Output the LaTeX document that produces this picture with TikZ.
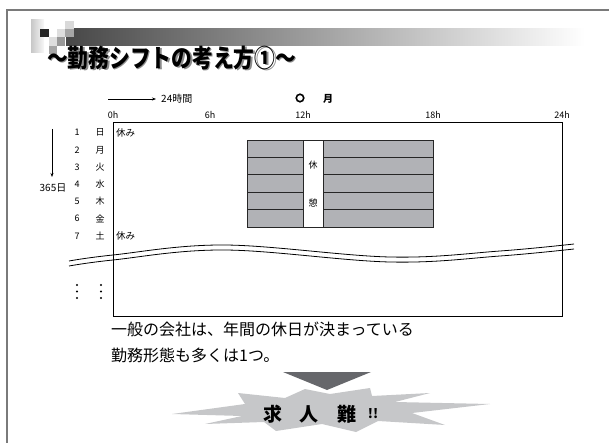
\documentclass[tikz,border=0pt]{standalone}
\usepackage{graphicx}
\usepackage{fontspec}
\setmainfont{Noto Sans CJK JP}
\usetikzlibrary{arrows.meta}
\definecolor{blockgray}{HTML}{B1B2B6}
\definecolor{framegray}{HTML}{7A7A7A}
\definecolor{trigray}{HTML}{66676B}
\definecolor{stargray}{HTML}{C6C7C9}
\tikzset{
  lbl/.style={inner sep=0pt, font=\fontsize{9}{9}\selectfont},
  hour/.style={inner sep=0pt, font=\fontsize{9}{9}\selectfont},
  body/.style={inner sep=0pt, anchor=west, font=\fontsize{16}{16}\selectfont},
  cell/.style={fill=blockgray, draw=black!85, line width=0.9pt},
  startext/.style={inner sep=0pt, font=\bfseries\fontsize{19}{19}\selectfont},
  titlefont/.style={anchor=west, inner sep=0pt, font=\bfseries\fontsize{25}{25}\selectfont}
}
\newcommand{\mytitle}{\scalebox{0.83}[1]{～勤務シフトの考え方①～}}
\begin{document}
\begin{tikzpicture}[x=1pt,y=-1pt]
\useasboundingbox (0,0) rectangle (609,443);
% frame
\draw[framegray, line width=1.4pt] (7,443) -- (7,10) -- (609,10);
% header decoration
\shade[left color=black!72, right color=white] (66,29) rectangle (585,45.5);
\shade[left color=black!22, right color=black!3] (31,20) rectangle (44,53);
\fill[black!85] (40,29) rectangle (49,37.5);
\fill[black!15] (65,21) rectangle (74,29);
\fill[black!13] (57,29) rectangle (65,37.5);
\fill[black!35] (65,29) rectangle (74,37.5);
\fill[black!13] (49,37.5) rectangle (57,46);
\fill[black!40] (57,37.5) rectangle (65,46);
\fill[black!35] (49,46) rectangle (57,54);
% title
\node[titlefont, text=black!45] (titleshadow) at (48.5,59.5) {\mytitle};
\node[titlefont] (title) at (47,58) {\mytitle};
% 24h arrow
\coordinate (ha) at (108,99);
\node[lbl, anchor=west, font=\fontsize{10}{10}\selectfont] (h24) at (161,99) {24時間};
\draw[-{Stealth[length=4pt,width=3pt]}, line width=0.6pt, shorten >=5pt] (ha) -- (h24.west);
\node[circle, draw, line width=1.6pt, minimum size=7.5pt, inner sep=0pt] (circ) at (300,98) {};
\node[inner sep=0pt, font=\bfseries\fontsize{10}{10}\selectfont] (mon) at (328,98.5) {月};
% hours
\node[hour] (h0) at (113,115) {0h};
\node[hour] (h6) at (210,115) {6h};
\node[hour] (h12) at (303,115) {12h};
\node[hour] (h18) at (433,115) {18h};
\node[hour] (h24b) at (562,115) {24h};
% main rectangle
\draw[line width=1pt] (113,123) rectangle (562,316);
% rows
\foreach \i/\d in {1/日,2/月,3/火,4/水,5/木,6/金,7/土}{
  \node[lbl] (n\i) at (77,{132.7+17.2*(\i-1)}) {\i};
  \node[lbl] (d\i) at (100,{132.7+17.2*(\i-1)}) {\d};
}
\node[lbl, anchor=west, font=\fontsize{9.5}{9.5}\selectfont] (off1) at (116,132.7) {休み};
\node[lbl, anchor=west, font=\fontsize{9.5}{9.5}\selectfont] (off7) at (116,235.9) {休み};
% 365 days arrow
\coordinate (da) at (52,129);
\coordinate (db) at (52,177);
\draw[-{Stealth[length=4pt,width=3pt]}, line width=0.6pt] (da) -- (db);
\node[lbl, font=\fontsize{10}{10}\selectfont] (d365) at (53,188) {365日};
% shift blocks
\foreach \j in {1,...,5}{
  \draw[cell] (247,{140+17.4*(\j-1)}) rectangle (303,{140+17.4*\j});
  \draw[cell] (323,{140+17.4*(\j-1)}) rectangle (433,{140+17.4*\j});
}
\draw[fill=white, draw=black!85, line width=0.9pt] (303,140) rectangle (323,227);
\node[lbl] (k1) at (313,165) {休};
\node[lbl] (k2) at (313,203) {憩};
% wave break lines
\draw[line width=0.8pt] plot[smooth, tension=0.6] coordinates {(69,261) (113,255) (225,245) (390,257) (500,251) (574,244)};
\draw[line width=0.8pt] plot[smooth, tension=0.6] coordinates {(69,266) (113,260) (225,250) (390,262) (500,256) (574,249)};
% dots
\foreach \x in {77,101}{
  \foreach \y in {285,291.5,298}{
    \fill (\x,\y) circle (1.2pt);
  }
}
% body text
\node[body] (t1) at (111,329) {一般の会社は、年間の休日が決まっている};
\node[body] (t2) at (111,355) {勤務形態も多くは1つ。};
% triangle
\fill[trigray] (283,372) -- (371,372) -- (327,390) -- cycle;
% burst
\fill[stargray] (172,414) -- (245,404) -- (238,393) -- (285,398) -- (305,389) -- (330,394) -- (370,388) -- (372,396) -- (430,393) -- (395,402) -- (490,404) -- (412,413) -- (445,425) -- (378,421) -- (356,432) -- (322,424) -- (276,431) -- (264,422) -- (205,424) -- (242,416) -- cycle;
\node[startext] (s1) at (272.5,414) {求};
\node[startext] (s2) at (309,414) {人};
\node[startext] (s3) at (347,414) {難};
\node[inner sep=0pt, font=\bfseries\fontsize{13}{13}\selectfont] (s4) at (373,414) {!!};
\end{tikzpicture}
\end{document}
